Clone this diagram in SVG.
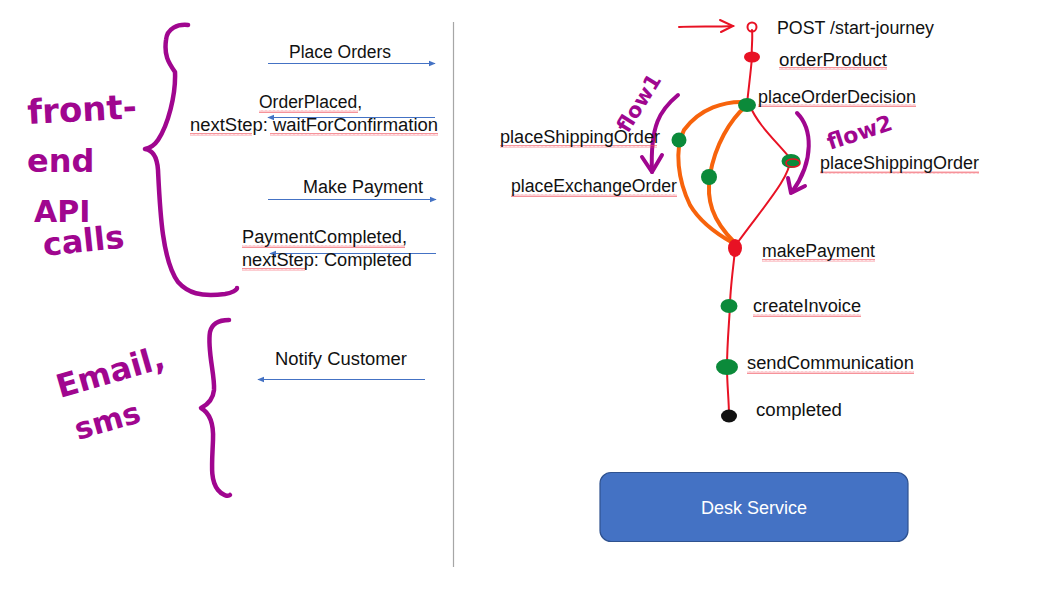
<svg xmlns="http://www.w3.org/2000/svg" width="1064" height="591" viewBox="0 0 1064 591">
<defs>
<style>
.lbl{font-family:"Liberation Sans","Open Sans",sans-serif;font-size:18px;fill:#111;}
.hand{font-family:"DejaVu Sans","Liberation Sans",sans-serif;font-weight:bold;fill:#a0068f;}
.msg{stroke:#4472C4;stroke-width:1.2;fill:none;}
.brace{stroke:#a0068f;stroke-width:4.5;fill:none;stroke-linecap:round;stroke-linejoin:round;}
.red{stroke:#e81224;stroke-width:2;fill:none;stroke-linecap:round;}
.orange{stroke:#f7630c;stroke-width:4;fill:none;stroke-linecap:round;}
.purple{stroke:#a0068f;stroke-width:4;fill:none;stroke-linecap:round;stroke-linejoin:round;}
.green{fill:#0b8a3a;}
.sq{fill:url(#squig);}
</style>
<pattern id="squig" width="4" height="3" patternUnits="userSpaceOnUse">
<path d="M0,2.5 L1,0.5 L2,2.5 L3,0.5 L4,2.5" stroke="#f04a55" stroke-width="0.6" fill="none"/>
</pattern>
<marker id="blueArrow" viewBox="0 0 10 10" refX="9" refY="5" markerWidth="6" markerHeight="6" orient="auto-start-reverse">
<path d="M0,1 L10,5 L0,9 z" fill="#4472C4"/>
</marker>
</defs>
<rect width="1064" height="591" fill="#ffffff"/>

<!-- divider -->
<line x1="453.5" y1="22" x2="453.5" y2="567" stroke="#a6a6a6" stroke-width="1.2"/>

<!-- braces and handwritten notes -->
<g id="frontend-brace">
<path class="brace" d="M188,25 C178,24 167,28 166,40 C164,55 168,62 175,72 C176,95 168,125 158,140 C154,146 150,148 145,149 C152,150 157,155 158,170 C160,210 162,260 178,282 C188,293 200,297 225,294 C232,293 237,290 237,288"/>
<text class="hand" x="28" y="124" font-size="34" transform="rotate(-3 28 124)">front-</text>
<text class="hand" x="27" y="172" font-size="32">end</text>
<text class="hand" x="34" y="222" font-size="30">API</text>
<text class="hand" x="44" y="256" font-size="32" transform="rotate(-6 44 256)">calls</text>
</g>
<g id="email-brace">
<path class="brace" d="M229,320 C220,320 212,323 210,332 C207,350 215,375 214,390 C213,400 207,405 201,408 C208,412 214,420 213,440 C212,465 210,480 218,490 C222,495 228,497 230,495"/>
<text class="hand" x="60" y="398" font-size="32" transform="rotate(-16 60 398)">Email,</text>
<text class="hand" x="78" y="440" font-size="30" transform="rotate(-16 78 440)">sms</text>
</g>

<!-- API messages -->
<g id="messages">
<line class="msg" x1="268" y1="63.5" x2="435" y2="63.5" marker-end="url(#blueArrow)"/>
<line class="msg" x1="435" y1="117.5" x2="268" y2="117.5" marker-end="url(#blueArrow)"/>
<line class="msg" x1="268" y1="199.5" x2="436" y2="199.5" marker-end="url(#blueArrow)"/>
<line class="msg" x1="436" y1="253.5" x2="270" y2="253.5" marker-end="url(#blueArrow)"/>
<line class="msg" x1="425" y1="379.5" x2="258" y2="379.5" marker-end="url(#blueArrow)"/>
</g>
<g id="message-labels">
<text class="lbl" x="289" y="58" textLength="102" lengthAdjust="spacingAndGlyphs">Place Orders</text>
<rect class="sq" x="259" y="110" width="99" height="3"/>
<text class="lbl" x="259" y="108" textLength="103" lengthAdjust="spacingAndGlyphs">OrderPlaced,</text>
<rect class="sq" x="190" y="133" width="62" height="3"/>
<rect class="sq" x="270" y="133" width="168" height="3"/>
<text class="lbl" x="190" y="131" textLength="248" lengthAdjust="spacingAndGlyphs">nextStep: waitForConfirmation</text>
<text class="lbl" x="303" y="193" textLength="120" lengthAdjust="spacingAndGlyphs">Make Payment</text>
<rect class="sq" x="242" y="245" width="163" height="3"/>
<text class="lbl" x="242" y="243" textLength="165" lengthAdjust="spacingAndGlyphs">PaymentCompleted,</text>
<rect class="sq" x="242" y="268" width="63" height="3"/>
<text class="lbl" x="242" y="266" textLength="170" lengthAdjust="spacingAndGlyphs">nextStep: Completed</text>
<text class="lbl" x="275" y="365" textLength="132" lengthAdjust="spacingAndGlyphs">Notify Customer</text>
</g>

<!-- flow connectors -->
<g id="connectors">
<path class="red" d="M679,27 C695,26 715,27 733,26"/>
<path class="red" d="M720,20 L733,26 L721,32"/>
<path class="red" d="M752,30 C753,40 751,50 752,57 C751,70 749,85 747,104"/>
<path class="orange" d="M745,102 C725,101 700,108 684,130 C674,150 678,180 690,205 C700,222 715,233 733,243"/>
<path class="orange" d="M746,106 C730,120 715,145 710,175 C706,200 712,220 735,243"/>
<path class="red" d="M750,106 C758,125 775,140 790,158 C792,175 765,205 738,242"/>
<path class="red" d="M735,250 C733,270 730,290 730,306 C729,325 727,345 727,367 C727,385 729,400 729,416"/>
<!-- flow annotations -->
<path class="purple" d="M678,95 C660,110 650,125 652,172"/>
<path class="purple" d="M642,157 L652,172 L662,155"/>
<path class="purple" d="M797,113 C812,128 815,160 792,192"/>
<path class="purple" d="M788,178 L791,193 L805,186"/>
</g>
<text class="hand" x="628" y="134" font-size="21" transform="rotate(-58 628 134)">flow1</text>
<text class="hand" x="830" y="150" font-size="22" transform="rotate(-18 830 150)">flow2</text>

<!-- nodes -->
<g id="start">
<circle cx="752" cy="27" r="4.5" fill="none" stroke="#e81224" stroke-width="2"/>
<text class="lbl" x="777" y="34" textLength="157" lengthAdjust="spacingAndGlyphs">POST /start-journey</text>
</g>
<g id="orderProduct">
<ellipse cx="752" cy="57" rx="8" ry="5.5" fill="#e81224"/>
<rect class="sq" x="779" y="67" width="108" height="3"/>
<text class="lbl" x="779" y="66" textLength="108" lengthAdjust="spacingAndGlyphs">orderProduct</text>
</g>
<g id="placeOrderDecision">
<ellipse cx="747" cy="105" rx="9" ry="7" class="green"/>
<rect class="sq" x="758" y="104" width="158" height="3"/>
<text class="lbl" x="758" y="103" textLength="158" lengthAdjust="spacingAndGlyphs">placeOrderDecision</text>
</g>
<g id="placeShippingOrder-left">
<circle cx="679" cy="140" r="7.5" class="green"/>
<rect class="sq" x="500" y="145" width="157" height="3"/>
<text class="lbl" x="500" y="143" textLength="160" lengthAdjust="spacingAndGlyphs">placeShippingOrder</text>
</g>
<g id="placeExchangeOrder">
<circle cx="709" cy="177" r="8" class="green"/>
<rect class="sq" x="511" y="194" width="166" height="3"/>
<text class="lbl" x="511" y="192" textLength="166" lengthAdjust="spacingAndGlyphs">placeExchangeOrder</text>
</g>
<g id="placeShippingOrder-right">
<ellipse cx="791" cy="161" rx="9.5" ry="7" class="green"/>
<ellipse cx="793" cy="163" rx="7" ry="4" fill="none" stroke="#e81224" stroke-width="1.6"/>
<rect class="sq" x="820" y="171" width="159" height="3"/>
<text class="lbl" x="820" y="169" textLength="159" lengthAdjust="spacingAndGlyphs">placeShippingOrder</text>
</g>
<g id="makePayment">
<ellipse cx="735" cy="248" rx="7" ry="9" fill="#e81224"/>
<rect class="sq" x="762" y="259" width="113" height="3"/>
<text class="lbl" x="762" y="257" textLength="113" lengthAdjust="spacingAndGlyphs">makePayment</text>
</g>
<g id="createInvoice">
<ellipse cx="729" cy="306" rx="8.5" ry="7" class="green"/>
<rect class="sq" x="753" y="314" width="108" height="3"/>
<text class="lbl" x="753" y="312" textLength="108" lengthAdjust="spacingAndGlyphs">createInvoice</text>
</g>
<g id="sendCommunication">
<ellipse cx="727" cy="367" rx="11" ry="8" class="green"/>
<rect class="sq" x="747" y="371" width="167" height="3"/>
<text class="lbl" x="747" y="369" textLength="167" lengthAdjust="spacingAndGlyphs">sendCommunication</text>
</g>
<g id="completed">
<ellipse cx="729" cy="416" rx="8" ry="6.5" fill="#111"/>
<text class="lbl" x="756" y="416" textLength="86" lengthAdjust="spacingAndGlyphs">completed</text>
</g>

<g id="deskService">
<rect x="600" y="472.5" width="308" height="69" rx="11" fill="#4472C4" stroke="#2F528F" stroke-width="1.2"/>
<text x="754" y="514" text-anchor="middle" font-family="Liberation Sans, Open Sans, sans-serif" font-size="18" fill="#ffffff">Desk Service</text>
</g>
</svg>
